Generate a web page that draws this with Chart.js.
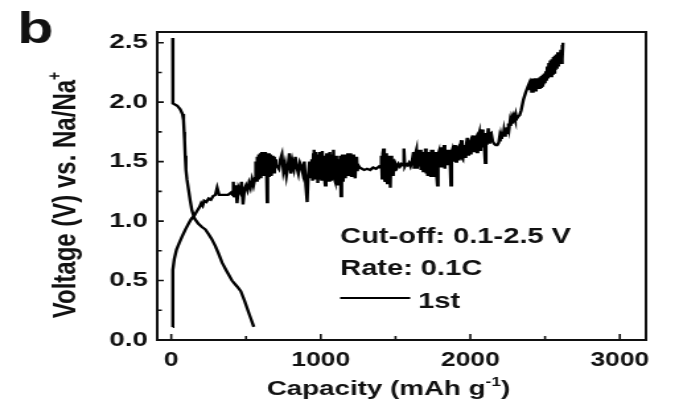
<!DOCTYPE html>
<html>
<head>
<meta charset="utf-8">
<script src="https://cdn.jsdelivr.net/npm/chart.js@4/dist/chart.umd.min.js"></script>
<style>
  html, body { margin: 0; padding: 0; background: #fff; overflow: hidden; }
  /* the source figure is stretched sideways, so the whole canvas is too */
  #wrap { width: 514px; height: 409px; transform: scaleX(1.321); transform-origin: 0 0; }
</style>
</head>
<body>
<div id="wrap"><canvas id="chart" width="514" height="409"></canvas></div>
<script>
// first discharge (sodiation)
const dischargeCap = [10, 10, 12, 40, 60, 75, 82, 86, 89, 93, 98, 105, 116, 127, 138, 156,
  180, 205, 228, 250, 270, 295, 315, 340, 370, 406, 440, 465, 490, 515, 535, 552];
const dischargeVolt = [2.54, 2.30, 1.99, 1.97, 1.94, 1.90, 1.85, 1.75, 1.68, 1.55, 1.43, 1.35, 1.26, 1.17, 1.09, 1.02,
  0.98, 0.95, 0.93, 0.89, 0.85, 0.79, 0.73, 0.65, 0.58, 0.50, 0.45, 0.41, 0.33, 0.24, 0.17, 0.11];

// first charge, noisy plateau (10 per row)
const chargeCap = [
  10, 10, 11, 20, 35, 55, 72, 95, 116, 135,
  156, 170, 180, 190, 200, 210, 220, 235, 250, 265,
  280, 295, 307, 320, 340, 360, 380, 400, 410, 415,
  420, 430, 440, 450, 460, 470, 480, 490, 500, 510,
  520, 530, 540, 550, 560, 565, 570, 575, 580, 585,
  590, 595, 600, 605, 610, 615, 620, 625, 630, 635,
  641, 645, 650, 655, 660, 665, 670, 675, 680, 685,
  690, 695, 700, 710, 720, 730, 740, 750, 760, 770,
  780, 790, 800, 810, 820, 830, 840, 850, 860, 870,
  880, 890, 900, 909, 915, 925, 935, 940, 945, 950,
  955, 960, 965, 970, 975, 980, 985, 990, 995, 1000,
  1005, 1010, 1015, 1020, 1025, 1030, 1035, 1040, 1045, 1050,
  1055, 1060, 1065, 1070, 1075, 1080, 1085, 1090, 1095, 1100,
  1105, 1110, 1115, 1120, 1125, 1130, 1135, 1140, 1145, 1150,
  1155, 1160, 1165, 1170, 1175, 1180, 1185, 1190, 1195, 1200,
  1205, 1210, 1215, 1220, 1225, 1230, 1235, 1240, 1245, 1250,
  1260, 1275, 1290, 1310, 1330, 1350, 1370, 1390, 1400, 1405,
  1410, 1415, 1420, 1425, 1430, 1435, 1440, 1445, 1450, 1455,
  1460, 1465, 1470, 1475, 1480, 1485, 1490, 1495, 1500, 1510,
  1520, 1530, 1540, 1550, 1556, 1562, 1570, 1580, 1590, 1600,
  1610, 1620, 1625, 1630, 1640, 1645, 1650, 1660, 1665, 1670,
  1680, 1685, 1690, 1695, 1700, 1705, 1710, 1715, 1720, 1725,
  1730, 1735, 1740, 1745, 1750, 1755, 1760, 1765, 1770, 1775,
  1780, 1785, 1790, 1795, 1800, 1805, 1810, 1815, 1820, 1825,
  1830, 1835, 1840, 1845, 1850, 1855, 1860, 1865, 1870, 1875,
  1880, 1890, 1895, 1900, 1905, 1910, 1920, 1925, 1930, 1940,
  1945, 1950, 1960, 1965, 1970, 1980, 1985, 1990, 2000, 2005,
  2010, 2020, 2025, 2030, 2040, 2045, 2050, 2060, 2065, 2070,
  2080, 2085, 2090, 2100, 2105, 2110, 2120, 2125, 2130, 2140,
  2150, 2160, 2170, 2180, 2190, 2195, 2200, 2205, 2210, 2215,
  2220, 2225, 2230, 2235, 2240, 2245, 2250, 2255, 2260, 2265,
  2270, 2275, 2280, 2285, 2290, 2295, 2300, 2305, 2310, 2320,
  2330, 2340, 2355, 2370, 2385, 2395, 2400, 2405, 2410, 2415,
  2420, 2425, 2430, 2435, 2440, 2445, 2450, 2455, 2460, 2465,
  2470, 2475, 2480, 2485, 2490, 2495, 2500, 2505, 2510, 2515,
  2520, 2525, 2530, 2535, 2540, 2545, 2550, 2555, 2560, 2565,
  2570, 2575, 2580, 2585, 2590, 2595, 2600, 2605, 2610, 2613,
  2617, 2620
];
const chargeVolt = [
  0.11, 0.40, 0.59, 0.68, 0.76, 0.82, 0.87, 0.93, 0.98, 1.02,
  1.05, 1.08, 1.10, 1.12, 1.15, 1.13, 1.17, 1.16, 1.19, 1.18,
  1.21, 1.22, 1.28, 1.22, 1.22, 1.22, 1.22, 1.24, 1.22, 1.33,
  1.20, 1.30, 1.15, 1.28, 1.25, 1.33, 1.14, 1.27, 1.30, 1.26,
  1.32, 1.28, 1.35, 1.30, 1.36, 1.50, 1.34, 1.54, 1.36, 1.56,
  1.38, 1.57, 1.36, 1.58, 1.40, 1.58, 1.38, 1.58, 1.42, 1.57,
  1.16, 1.55, 1.38, 1.57, 1.40, 1.56, 1.38, 1.55, 1.42, 1.54,
  1.40, 1.52, 1.47, 1.46, 1.44, 1.52, 1.56, 1.42, 1.48, 1.38,
  1.46, 1.57, 1.40, 1.50, 1.44, 1.54, 1.45, 1.40, 1.49, 1.46,
  1.40, 1.50, 1.30, 1.16, 1.36, 1.50, 1.36, 1.52, 1.34, 1.56,
  1.60, 1.36, 1.58, 1.38, 1.54, 1.32, 1.55, 1.58, 1.36, 1.50,
  1.35, 1.59, 1.38, 1.55, 1.36, 1.30, 1.52, 1.57, 1.36, 1.54,
  1.34, 1.58, 1.38, 1.34, 1.56, 1.38, 1.60, 1.36, 1.34, 1.55,
  1.38, 1.33, 1.30, 1.52, 1.36, 1.55, 1.21, 1.40, 1.56, 1.33,
  1.52, 1.56, 1.36, 1.54, 1.38, 1.57, 1.38, 1.55, 1.40, 1.57,
  1.38, 1.55, 1.38, 1.56, 1.40, 1.36, 1.52, 1.54, 1.42, 1.47,
  1.45, 1.44, 1.43, 1.44, 1.43, 1.45, 1.44, 1.46, 1.45, 1.55,
  1.36, 1.57, 1.61, 1.36, 1.33, 1.57, 1.38, 1.32, 1.55, 1.36,
  1.54, 1.28, 1.55, 1.38, 1.52, 1.38, 1.50, 1.42, 1.48, 1.45,
  1.48, 1.46, 1.48, 1.47, 1.61, 1.46, 1.48, 1.47, 1.49, 1.46,
  1.50, 1.58, 1.44, 1.55, 1.60, 1.44, 1.52, 1.46, 1.60, 1.43,
  1.56, 1.42, 1.58, 1.45, 1.61, 1.40, 1.55, 1.38, 1.58, 1.42,
  1.56, 1.38, 1.60, 1.42, 1.60, 1.38, 1.56, 1.44, 1.58, 1.38,
  1.30, 1.56, 1.58, 1.45, 1.58, 1.47, 1.62, 1.46, 1.58, 1.64,
  1.44, 1.58, 1.60, 1.47, 1.58, 1.48, 1.60, 1.50, 1.30, 1.58,
  1.60, 1.50, 1.63, 1.64, 1.50, 1.60, 1.62, 1.51, 1.60, 1.68,
  1.53, 1.52, 1.64, 1.54, 1.62, 1.70, 1.56, 1.64, 1.67, 1.56,
  1.66, 1.72, 1.58, 1.67, 1.70, 1.58, 1.69, 1.74, 1.60, 1.70,
  1.77, 1.62, 1.72, 1.49, 1.74, 1.64, 1.78, 1.66, 1.73, 1.74,
  1.67, 1.65, 1.64, 1.64, 1.66, 1.70, 1.67, 1.72, 1.69, 1.75,
  1.71, 1.76, 1.72, 1.78, 1.74, 1.79, 1.76, 1.82, 1.78, 1.83,
  1.80, 1.85, 1.82, 1.86, 1.83, 1.87, 1.85, 1.89, 1.86, 1.88,
  1.89, 1.93, 2.02, 2.08, 2.13, 2.16, 2.11, 2.19, 2.09, 2.20,
  2.08, 2.18, 2.10, 2.20, 2.09, 2.19, 2.11, 2.20, 2.12, 2.21,
  2.13, 2.22, 2.14, 2.23, 2.15, 2.24, 2.16, 2.26, 2.18, 2.30,
  2.20, 2.33, 2.21, 2.35, 2.22, 2.36, 2.24, 2.38, 2.25, 2.39,
  2.27, 2.40, 2.28, 2.42, 2.30, 2.41, 2.32, 2.44, 2.33, 2.48,
  2.36, 2.50
];

const xTickValues = [0, 500, 1000, 1500, 2000, 2500, 3000];
const xTickLabels = ['0', '', '1000', '', '2000', '', '3000'];
const yTickValues = [0, 0.25, 0.5, 0.75, 1.0, 1.25, 1.5, 1.75, 2.0, 2.25, 2.5];
const yTickLabels = ['0.0', '', '0.5', '', '1.0', '', '1.5', '', '2.0', '', '2.5'];

const cycleLabel = '1st';
const noteLines = ['Cut-off: 0.1-2.5 V', 'Rate: 0.1C'];

const INK = '#111';
const FONT = 'Liberation Sans, Arial, sans-serif';

function toPoints(xs, ys) {
    return xs.map((x, i) => ({ x: x, y: ys[i] }));
}

// text with one raised part, centred on cx
function drawSupText(ctx, parts, cx, y, size) {
    const supSize = Math.round(size * 0.6);
    let total = 0;
    parts.forEach(p => {
        ctx.font = `bold ${p.sup ? supSize : size}px ${FONT}`;
        total += ctx.measureText(p.t).width;
    });
    let x = cx - total / 2;
    parts.forEach(p => {
        ctx.font = `bold ${p.sup ? supSize : size}px ${FONT}`;
        ctx.fillText(p.t, x, p.sup ? y - size * 0.45 : y);
        x += ctx.measureText(p.t).width;
    });
}

const framePlugin = {
    id: 'frameAndText',
    afterDraw(chart) {
        const { ctx, chartArea: a, scales: { x, y } } = chart;
        ctx.save();
        ctx.strokeStyle = INK;
        ctx.fillStyle = INK;

        // box
        ctx.lineWidth = 2;
        ctx.strokeRect(a.left, a.top, a.right - a.left, a.bottom - a.top);

        // inward ticks on bottom and left only
        ctx.lineWidth = 1.6;
        ctx.beginPath();
        xTickValues.forEach((v, i) => {
            const px = x.getPixelForValue(v);
            const len = xTickLabels[i] ? 6 : 4;
            ctx.moveTo(px, a.bottom);
            ctx.lineTo(px, a.bottom - len);
        });
        yTickValues.forEach((v, i) => {
            const py = y.getPixelForValue(v);
            const len = yTickLabels[i] ? 5 : 3.5;
            ctx.moveTo(a.left, py);
            ctx.lineTo(a.left + len, py);
        });
        ctx.stroke();

        // axis titles
        ctx.textAlign = 'left';
        ctx.textBaseline = 'alphabetic';
        drawSupText(ctx, [
            { t: 'Capacity (mAh g' }, { t: '-1', sup: true }, { t: ')' }
        ], 294, 395, 21);

        ctx.save();
        ctx.translate(57, 195);
        ctx.rotate(-Math.PI / 2);
        drawSupText(ctx, [
            { t: 'Voltage (V) vs. Na/Na' }, { t: '+', sup: true }
        ], 0, 0, 24);
        ctx.restore();

        // panel letter
        ctx.font = `bold 45px ${FONT}`;
        ctx.fillText('b', 13, 43);

        // notes and legend inside the plot
        ctx.font = `bold 22px ${FONT}`;
        ctx.fillText(noteLines[0], 257.5, 243);
        ctx.fillText(noteLines[1], 257.5, 275);

        const ds = chart.data.datasets[0];
        ctx.strokeStyle = ds.borderColor;
        ctx.lineWidth = 2;
        ctx.beginPath();
        ctx.moveTo(257.5, 298);
        ctx.lineTo(310.5, 298);
        ctx.stroke();
        ctx.fillText(cycleLabel, 316.5, 308);

        ctx.restore();
    }
};

const ctx = document.getElementById('chart').getContext('2d');

new Chart(ctx, {
    type: 'line',
    data: {
        datasets: [
            {
                label: cycleLabel,
                data: toPoints(dischargeCap, dischargeVolt),
                borderColor: '#000',
                borderWidth: 2.4,
                pointRadius: 0,
                tension: 0
            },
            {
                label: cycleLabel,
                data: toPoints(chargeCap, chargeVolt),
                borderColor: '#000',
                borderWidth: 2.4,
                pointRadius: 0,
                tension: 0
            }
        ]
    },
    options: {
        responsive: false,
        animation: false,
        events: [],
        layout: { padding: { left: 0, right: 25, top: 32, bottom: 0 } },
        plugins: {
            legend: { display: false },
            tooltip: { enabled: false }
        },
        scales: {
            x: {
                type: 'linear',
                min: -94,
                max: 3175,
                grid: { display: false, drawTicks: false },
                border: { display: false },
                afterBuildTicks: axis => { axis.ticks = xTickValues.map(v => ({ value: v })); },
                afterFit: axis => { axis.height = 69; },
                ticks: {
                    autoSkip: false,
                    maxRotation: 0,
                    padding: 8,
                    color: INK,
                    font: { family: FONT, size: 20, weight: 'bold' },
                    callback: (v, i) => xTickLabels[i]
                }
            },
            y: {
                type: 'linear',
                min: 0,
                max: 2.59,
                grid: { display: false, drawTicks: false },
                border: { display: false },
                afterBuildTicks: axis => { axis.ticks = yTickValues.map(v => ({ value: v })); },
                afterFit: axis => { axis.width = 119; },
                ticks: {
                    autoSkip: false,
                    padding: 7,
                    color: INK,
                    font: { family: FONT, size: 21, weight: 'bold' },
                    callback: (v, i) => yTickLabels[i]
                }
            }
        }
    },
    plugins: [framePlugin]
});
</script>
</body>
</html>
